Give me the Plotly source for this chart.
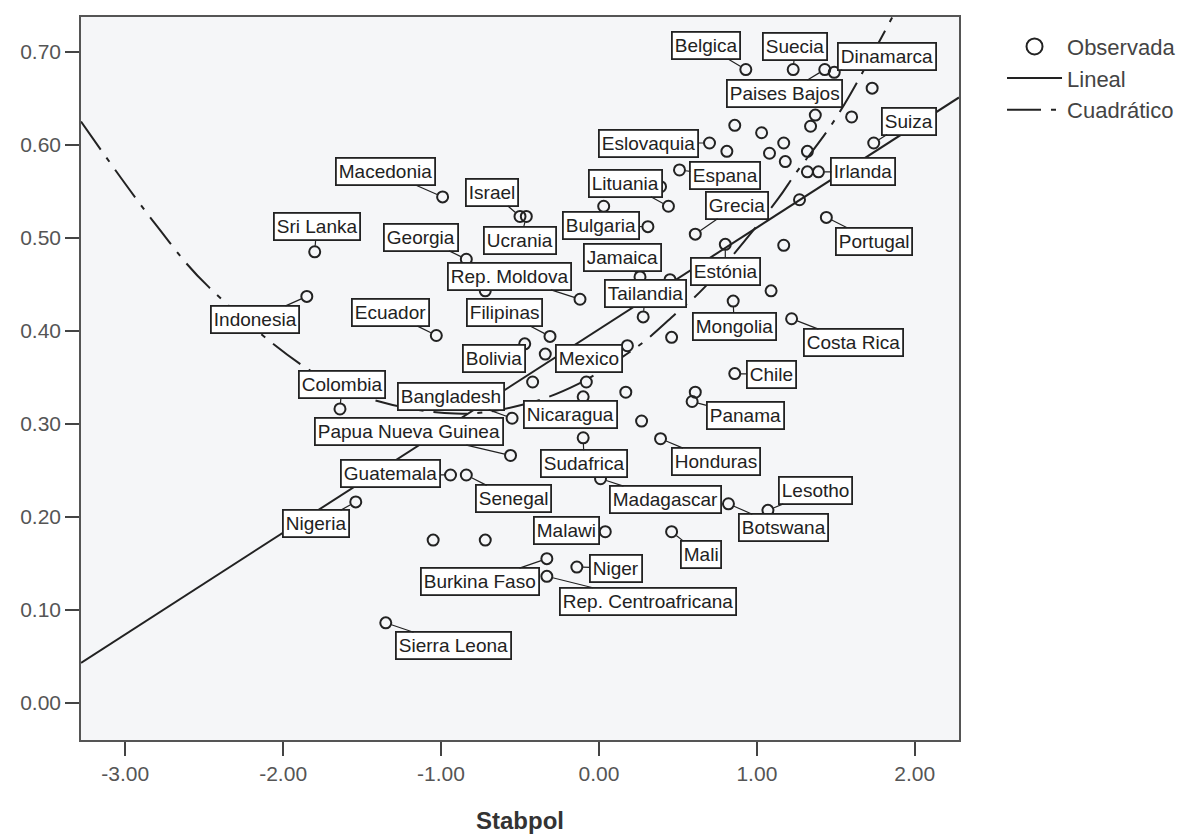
import plotly.graph_objects as go

# Labelled countries: Stabpol score (x) and the index on the y axis
paises = ["Belgica", "Suecia", "Dinamarca", "Paises Bajos", "Eslovaquia", "Macedonia",
          "Israel", "Ucrania", "Lituania", "Espana", "Grecia", "Suiza", "Irlanda",
          "Portugal", "Sri Lanka", "Georgia", "Bulgaria", "Jamaica", "Estónia",
          "Rep. Moldova", "Tailandia", "Indonesia", "Ecuador", "Filipinas", "Mongolia",
          "Costa Rica", "Bolivia", "Mexico", "Chile", "Colombia", "Bangladesh",
          "Nicaragua", "Panama", "Papua Nueva Guinea", "Sudafrica", "Honduras",
          "Guatemala", "Senegal", "Madagascar", "Botswana", "Lesotho", "Nigeria",
          "Malawi", "Mali", "Niger", "Burkina Faso", "Rep. Centroafricana", "Sierra Leona"]
stabpol = [0.93, 1.23, 1.49, 1.43, 0.70, -0.99,
           -0.50, -0.46, 0.44, 0.51, 0.61, 1.74, 1.39,
           1.44, -1.80, -0.84, 0.31, 0.26, 0.80,
           -0.12, 0.28, -1.85, -1.03, -0.31, 0.85,
           1.22, -0.47, 0.18, 0.86, -1.64, -0.55,
           -0.10, 0.59, -0.56, -0.10, 0.39,
           -0.94, -0.84, 0.01, 0.82, 1.07, -1.54,
           0.04, 0.46, -0.14, -0.33, -0.33, -1.35]
indice = [0.681, 0.681, 0.678, 0.681, 0.602, 0.544,
          0.523, 0.523, 0.534, 0.573, 0.504, 0.602, 0.571,
          0.522, 0.485, 0.477, 0.512, 0.458, 0.493,
          0.434, 0.415, 0.437, 0.395, 0.394, 0.432,
          0.413, 0.386, 0.384, 0.354, 0.316, 0.306,
          0.329, 0.324, 0.266, 0.285, 0.284,
          0.245, 0.245, 0.241, 0.214, 0.207, 0.216,
          0.184, 0.184, 0.146, 0.155, 0.136, 0.086]

# where each label box sits relative to its point (pixels)
label_dx = [-40, 2, 53, -40, -61, -57,
            -28, -6, -43, 46, 42, 35, 45,
            48, 2, -45, -47, -18, 0,
            -71, 2, -52, -46, -46, 1,
            62, -31, -38, 37, 2, -61,
            -13, 53, -102, 1, 55,
            -60, 47, 65, 55, 48, -40,
            -39, 29, 39, -67, 101, 68]
label_dy = [-24, -23, -16, 24, 0, -25,
            -24, 24, -23, 6, -29, -22, 0,
            24, -25, -22, -1, -19, 27,
            -23, -23, 23, -23, -24, 25,
            24, 15, 13, 1, -24, -22,
            18, 14, -24, 26, 23,
            -1, 24, 21, 24, -20, 22,
            -1, 23, 1, 23, 25, 23]

# observations without a label
otros_x = [1.73, 1.37, 1.34, 1.60, 0.86, 1.03, 0.81, 1.17, 1.08, 1.18, 1.32, 1.32,
           1.27, 1.17, 0.39, 0.03, 0.45, -0.72, 1.09, 0.46, -0.34, -0.42, -0.08,
           0.17, 0.61, 0.27, -1.05, -0.72]
otros_y = [0.661, 0.632, 0.620, 0.630, 0.621, 0.613, 0.593, 0.602, 0.591, 0.582, 0.593, 0.571,
           0.541, 0.492, 0.555, 0.534, 0.455, 0.443, 0.443, 0.393, 0.375, 0.345, 0.345,
           0.334, 0.334, 0.303, 0.175, 0.175]

# fitted curves
lineal_x = [-3.28, 2.28]
lineal_y = [0.043, 0.651]
cuad_x = [-3.28, -2.81, -2.47, -1.65, -0.91, -0.45, -0.13, 0.14, 0.29, 0.47, 0.67,
          1.13, 1.24, 1.45, 1.58, 1.86]
cuad_y = [0.625, 0.515, 0.447, 0.340, 0.311, 0.322, 0.343, 0.371, 0.389, 0.416, 0.447,
          0.541, 0.568, 0.616, 0.651, 0.738]

x_ticks = [-3, -2, -1, 0, 1, 2]
x_ticktext = ["-3.00", "-2.00", "-1.00", "0.00", "1.00", "2.00"]
y_ticks = [0.0, 0.1, 0.2, 0.3, 0.4, 0.5, 0.6, 0.7]
y_ticktext = ["0.00", "0.10", "0.20", "0.30", "0.40", "0.50", "0.60", "0.70"]

FONT = "Liberation Sans, Arial, sans-serif"
INK = "#222222"

fig = go.Figure()

# the scatter itself (legend entry drawn by a bigger stand-in below)
fig.add_trace(go.Scatter(
    x=stabpol + otros_x, y=indice + otros_y, mode="markers", name="Observada",
    marker=dict(symbol="circle-open", size=11, color=INK, line=dict(width=2, color=INK)),
    showlegend=False,
))
fig.add_trace(go.Scatter(
    x=[None], y=[None], mode="markers", name="Observada",
    marker=dict(symbol="circle-open", size=20, color=INK, line=dict(width=2, color=INK)),
))
fig.add_trace(go.Scatter(
    x=lineal_x, y=lineal_y, mode="lines", name="Lineal",
    line=dict(color=INK, width=2),
))
fig.add_trace(go.Scatter(
    x=cuad_x, y=cuad_y, mode="lines", name="Cuadrático",
    line=dict(color=INK, width=2, dash="34px,10px,5px,10px", shape="spline", smoothing=1.0),
))

# boxed country labels with leader lines
for name, xv, yv, dx, dy in zip(paises, stabpol, indice, label_dx, label_dy):
    fig.add_annotation(
        x=xv, y=yv, ax=dx, ay=dy, text=name,
        showarrow=True, arrowhead=0, arrowwidth=1.2, arrowcolor=INK, standoff=6,
        font=dict(family=FONT, size=19, color=INK),
        bgcolor="white", bordercolor=INK, borderwidth=1.8, borderpad=2,
    )

fig.add_annotation(
    x=0.5, y=-0.112, xref="paper", yref="paper", text="<b>Stabpol</b>",
    showarrow=False, yanchor="middle",
    font=dict(family=FONT, size=24, color="#333333"),
)

axis_common = dict(
    showline=True, linecolor="#555555", linewidth=1.5, mirror=True,
    showgrid=False, zeroline=False,
    ticks="outside", ticklen=14, tickwidth=2, tickcolor="#444444",
    tickfont=dict(family=FONT, size=21, color="#555555"),
)

fig.update_layout(
    width=1193, height=834,
    margin=dict(l=73, r=242, t=7, b=102),
    paper_bgcolor="white", plot_bgcolor="#f5f6f8",
    showlegend=True,
    legend=dict(
        x=1.049, y=0.988, xanchor="left", yanchor="top",
        font=dict(family=FONT, size=22, color="#444444"),
        bgcolor="rgba(0,0,0,0)", itemwidth=55,
    ),
    xaxis=dict(range=[-3.28, 2.28], tickvals=x_ticks, ticktext=x_ticktext, **axis_common),
    yaxis=dict(range=[-0.04, 0.7375], tickvals=y_ticks, ticktext=y_ticktext, **axis_common),
)

fig.write_html("out.html")
